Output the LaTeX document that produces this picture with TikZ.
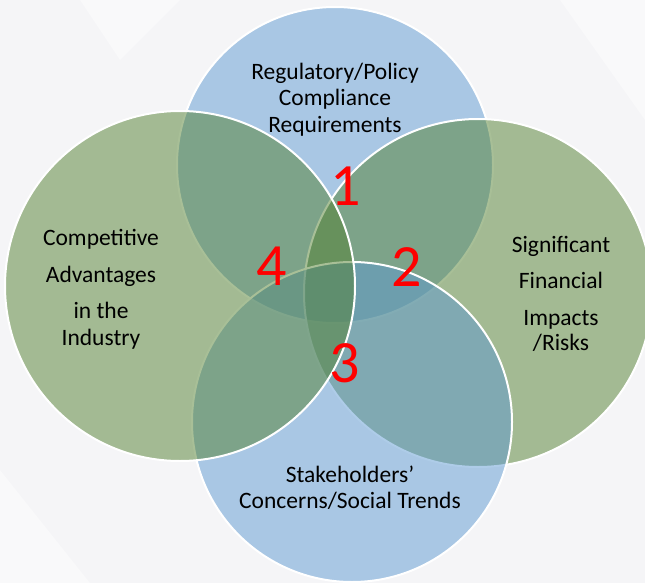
\documentclass[tikz,border=0pt]{standalone}
\usepackage{fontspec}
\setmainfont{Carlito}
\definecolor{cblue}{RGB}{94,154,210}
\definecolor{cgreen}{RGB}{82,128,48}
\definecolor{bgc}{RGB}{245,245,247}
\definecolor{nred}{RGB}{255,0,0}
\begin{document}
\begin{tikzpicture}[x=1pt,y=-1pt,
  venn/.style={circle, draw=white, line width=2pt, fill opacity=0.5, inner sep=0pt, outer sep=0pt},
  lbl/.style={anchor=base, inner sep=0pt, font=\fontsize{23.5}{27}\selectfont, text=black},
  num/.style={anchor=base, inner sep=0pt, font=\fontsize{60}{60}\selectfont, text=nred}]
\fill[bgc] (0,0) rectangle (645,583);
\fill[white, opacity=0.4] (80,0) -- (180,0) -- (120,60) -- cycle;
\fill[white, opacity=0.4] (560,0) -- (645,0) -- (645,120) -- cycle;
\fill[white, opacity=0.4] (0,470) -- (90,583) -- (0,583) -- cycle;
\useasboundingbox (0,0) rectangle (645,583);
% circles
\node[venn, fill=cblue, minimum size=316pt] (topc) at (335,165) {};
\node[venn, fill=cgreen, minimum size=348pt] (rightc) at (478,293) {};
\node[venn, fill=cblue, minimum size=320pt] (bottomc) at (352,422) {};
\node[venn, fill=cgreen, minimum size=350pt] (leftc) at (180,286) {};
% top label
\node[lbl] (t1) at (335,80) {Regulatory/Policy};
\node[lbl] (t2) at (335,106) {Compliance};
\node[lbl] (t3) at (335,132) {Requirements};
% left label
\node[lbl] (l1) at (101,245) {Competitive};
\node[lbl] (l2) at (101,282) {Advantages};
\node[lbl] (l3) at (101,318) {in the};
\node[lbl] (l4) at (101,345) {Industry};
% right label
\node[lbl] (r1) at (561,252) {Significant};
\node[lbl] (r2) at (561,288) {Financial};
\node[lbl] (r3) at (561,325) {Impacts};
\node[lbl] (r4) at (561,350) {/Risks};
% bottom label
\node[lbl] (b1) at (350,482) {Stakeholders’};
\node[lbl] (b2) at (350,508) {Concerns/Social Trends};
% numbers
\node[num] (n1) at (346,205) {1};
\node[num] (n2) at (407,286) {2};
\node[num] (n3) at (345,382) {3};
\node[num] (n4) at (272,285) {4};
\end{tikzpicture}
\end{document}
